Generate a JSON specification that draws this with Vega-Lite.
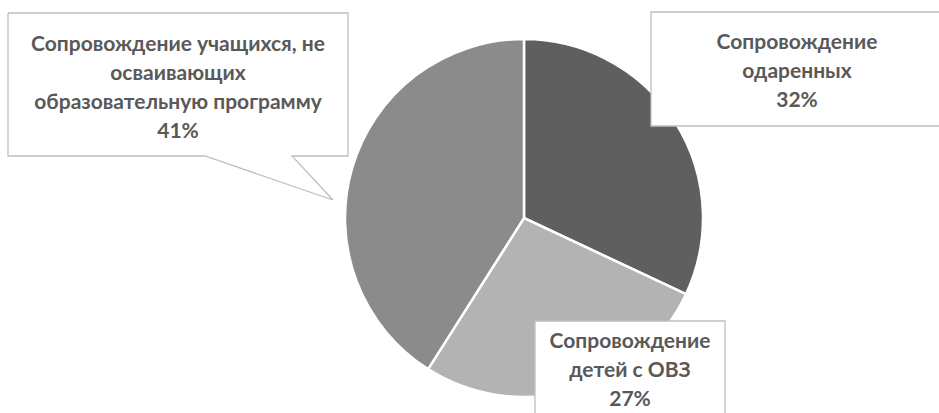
{
  "$schema": "https://vega.github.io/schema/vega-lite/v6.json",
  "width": 939,
  "height": 413,
  "padding": 0,
  "autosize": {"type": "none"},
  "background": "white",
  "config": {"view": {"stroke": null}},
  "datasets": {
    "slices": [
      {"name": "Сопровождение одаренных", "value": 32, "ord": 1, "color": "#5f5f5f"},
      {"name": "Сопровождение детей с ОВЗ", "value": 27, "ord": 2, "color": "#b3b3b3"},
      {"name": "Сопровождение учащихся, не осваивающих образовательную программу", "value": 41, "ord": 3, "color": "#8b8b8b"}
    ],
    "boxes": [
      {"box": "left", "x1": 8, "x2": 348, "y1": 13, "y2": 156},
      {"box": "right", "x1": 651, "x2": 945, "y1": 12, "y2": 126},
      {"box": "bottom", "x1": 535, "x2": 725, "y1": 321, "y2": 430}
    ],
    "outline": [
      {"box": "left", "i": 1, "px": 8, "py": 13},
      {"box": "left", "i": 2, "px": 348, "py": 13},
      {"box": "left", "i": 3, "px": 348, "py": 156},
      {"box": "left", "i": 4, "px": 292, "py": 156},
      {"box": "left", "i": 5, "px": 333, "py": 200},
      {"box": "left", "i": 6, "px": 205, "py": 156},
      {"box": "left", "i": 7, "px": 8, "py": 156},
      {"box": "left", "i": 8, "px": 8, "py": 13},
      {"box": "right", "i": 1, "px": 945, "py": 12},
      {"box": "right", "i": 2, "px": 651, "py": 12},
      {"box": "right", "i": 3, "px": 651, "py": 126},
      {"box": "right", "i": 4, "px": 945, "py": 126},
      {"box": "bottom", "i": 1, "px": 535, "py": 430},
      {"box": "bottom", "i": 2, "px": 535, "py": 321},
      {"box": "bottom", "i": 3, "px": 725, "py": 321},
      {"box": "bottom", "i": 4, "px": 725, "py": 430}
    ],
    "labels": [
      {"label": "Сопровождение учащихся, не\nосваивающих\nобразовательную программу\n41%", "lx": 178, "ly": 45},
      {"label": "Сопровождение\nодаренных\n32%", "lx": 797, "ly": 43},
      {"label": "Сопровождение\nдетей с ОВЗ\n27%", "lx": 630, "ly": 342}
    ]
  },
  "layer": [
    {
      "data": {"name": "slices"},
      "mark": {"type": "arc", "outerRadius": 179, "stroke": "white", "strokeWidth": 2.5},
      "encoding": {
        "x": {"datum": 524, "type": "quantitative", "scale": {"domain": [0, 939], "nice": false, "zero": false}, "axis": null},
        "y": {"datum": 218, "type": "quantitative", "scale": {"domain": [0, 413], "nice": false, "zero": false, "reverse": true}, "axis": null},
        "theta": {"field": "value", "type": "quantitative", "stack": true},
        "order": {"field": "ord", "type": "quantitative"},
        "color": {"field": "color", "type": "nominal", "scale": null, "legend": null}
      }
    },
    {
      "data": {"name": "boxes"},
      "mark": {"type": "rect", "fill": "white", "strokeWidth": 0},
      "encoding": {
        "x": {"field": "x1", "type": "quantitative"},
        "x2": {"field": "x2"},
        "y": {"field": "y1", "type": "quantitative"},
        "y2": {"field": "y2"}
      }
    },
    {
      "data": {"name": "outline"},
      "mark": {"type": "line", "stroke": "#bfbfbf", "strokeWidth": 1.3, "interpolate": "linear"},
      "encoding": {
        "x": {"field": "px", "type": "quantitative"},
        "y": {"field": "py", "type": "quantitative"},
        "detail": {"field": "box"},
        "order": {"field": "i", "type": "quantitative"}
      }
    },
    {
      "data": {"name": "labels"},
      "mark": {"type": "text", "lineBreak": "\n", "lineHeight": 29, "font": "Lato", "fontWeight": "bold", "fontSize": 21, "fill": "#595959", "align": "center", "baseline": "middle"},
      "encoding": {
        "x": {"field": "lx", "type": "quantitative"},
        "y": {"field": "ly", "type": "quantitative"},
        "text": {"field": "label"}
      }
    }
  ]
}
